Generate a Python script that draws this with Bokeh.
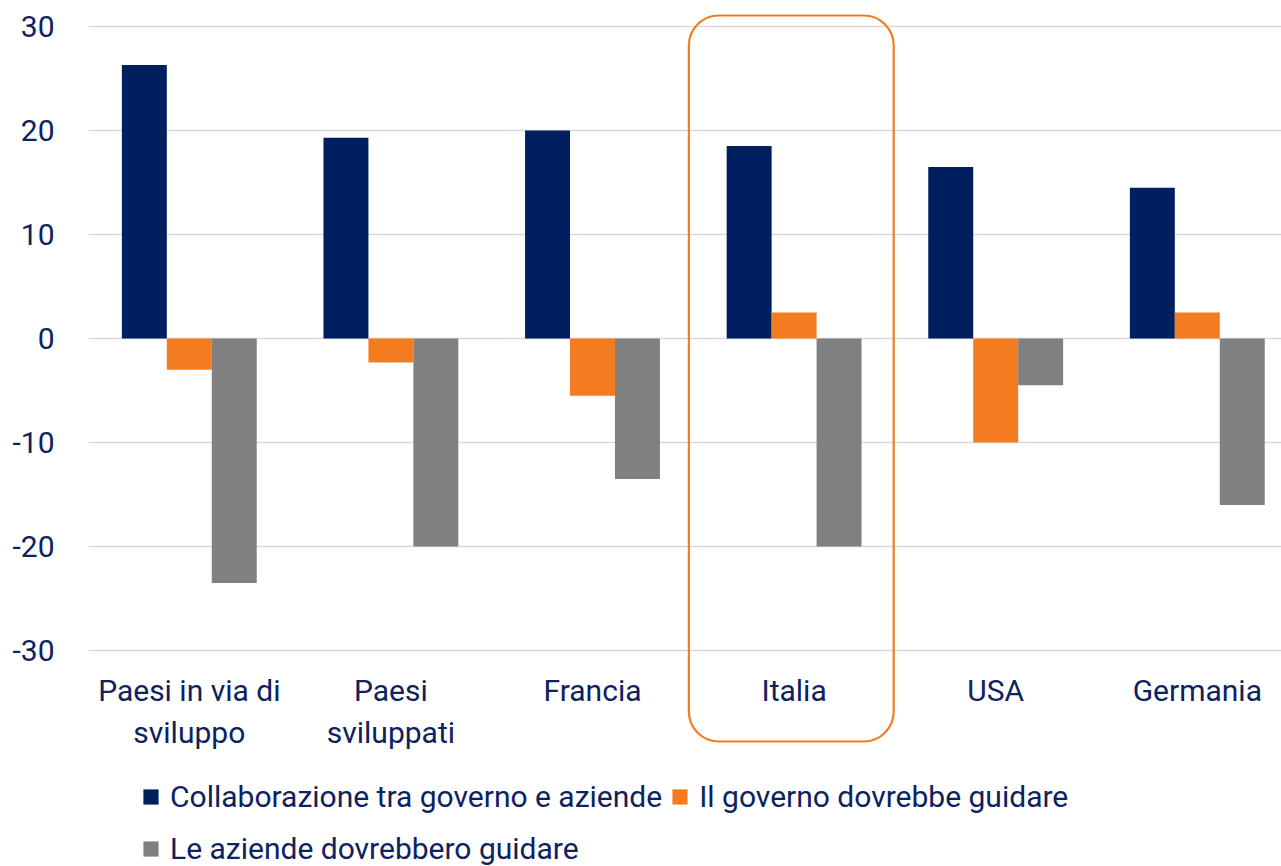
from bokeh.plotting import figure
from bokeh.models import Range1d, ColumnDataSource, Legend, LegendItem, BoxAnnotation, FixedTicker
from bokeh.core.properties import value
from bokeh.transform import dodge
from bokeh.embed import file_html
from bokeh.resources import INLINE

categories = ["Paesi in via di sviluppo", "Paesi sviluppati", "Francia", "Italia", "USA", "Germania"]
tick_labels = ["Paesi in via di\nsviluppo", "Paesi\nsviluppati", "Francia", "Italia", "USA", "Germania"]
collaborazione = [26.3, 19.3, 20.0, 18.5, 16.5, 14.5]
governo = [-3.0, -2.3, -5.5, 2.5, -10.0, 2.5]
aziende = [-23.5, -20.0, -13.5, -20.0, -4.5, -16.0]
series_names = ["Collaborazione tra governo e aziende", "Il governo dovrebbe guidare", "Le aziende dovrebbero guidare"]
y_ticks = [-30, -20, -10, 0, 10, 20, 30]
highlight = "Italia"

NAVY = "#001F5F"
ORANGE = "#F37C21"
GRAY = "#808080"
TEXT = "#0D2260"
FONT = "Roboto"
FS = "30px"

# pixel geometry: 10.4 px per unit, y=30 sits 26 px below the frame top
PX = 10.4
FRAME_H = 866
FRAME_W = 1193
CAT_W = 201.6  # px per category; the last category runs past the right edge
y_top = 30 + 26 / PX
y_bot = y_top - FRAME_H / PX
x_end = FRAME_W / CAT_W
bw = 0.223

# category slots: category k occupies [k, k+1] on the x scale
xc = [k + 0.5 for k in range(len(categories))]

src = ColumnDataSource(dict(x=xc, cat=categories, a=collaborazione, b=governo, c=aziende))
lab = ColumnDataSource(dict(x=xc, lbl=tick_labels, y=[min(y_ticks)] * len(categories)))

p = figure(x_range=Range1d(0, x_end), y_range=Range1d(y_bot, y_top),
           frame_width=FRAME_W, frame_height=FRAME_H, output_backend="svg", toolbar_location=None,
           min_border_left=88, min_border_top=0, min_border_right=0, min_border_bottom=0)
p.outline_line_color = None
p.background_fill_color = "white"

r1 = p.vbar(x=dodge("x", -bw), top="a", bottom=0, width=bw, source=src,
            fill_color=NAVY, line_color=None)
r2 = p.vbar(x=dodge("x", 0), top="b", bottom=0, width=bw, source=src,
            fill_color=ORANGE, line_color=None)
r3 = p.vbar(x=dodge("x", bw), top="c", bottom=0, width=bw, source=src,
            fill_color=GRAY, line_color=None)

p.ygrid.grid_line_color = "#D9D9D9"
p.ygrid.grid_line_width = 1.5
p.xgrid.grid_line_color = None
p.yaxis.ticker = FixedTicker(ticks=y_ticks)
p.yaxis.axis_line_color = None
p.yaxis.major_tick_line_color = None
p.yaxis.minor_tick_line_color = None
p.yaxis.major_label_text_font = FONT
p.yaxis.major_label_text_font_size = FS
p.yaxis.major_label_text_color = TEXT
p.yaxis.major_label_standoff = 28
p.yaxis.major_label_overrides = {t: str(t) for t in y_ticks}
p.xaxis.visible = False

# category labels (multi-line) under the lowest gridline
p.text(x="x", y="y", text="lbl", source=lab, text_align="center", text_baseline="top",
       y_offset=22, text_font=value(FONT), text_font_size=FS, text_color=TEXT,
       text_line_height=1.2)

# rounded highlight box around Italia
i = categories.index(highlight)
box = BoxAnnotation(left=i - 0.022, right=i + 0.994, top=30 + 11 / PX, bottom=-30 - 91 / PX,
                    fill_alpha=0, fill_color=None, line_color=ORANGE, line_alpha=1.0,
                    line_width=2.2, border_radius=30)
p.add_layout(box)

def mk_legend(items, loc):
    return Legend(items=items, orientation="horizontal", location=loc,
                  padding=0, margin=0, spacing=8, label_standoff=10,
                  glyph_width=19, glyph_height=19,
                  label_text_font=FONT, label_text_font_size=FS, label_text_color=TEXT,
                  border_line_color=None, background_fill_alpha=0)

lg1 = mk_legend([LegendItem(label=series_names[0], renderers=[r1]),
                 LegendItem(label=series_names[1], renderers=[r2])], (53, 52))
lg2 = mk_legend([LegendItem(label=series_names[2], renderers=[r3])], (53, 0))
p.add_layout(lg1)
p.add_layout(lg2)

open("out.html", "w").write(file_html(p, INLINE))
